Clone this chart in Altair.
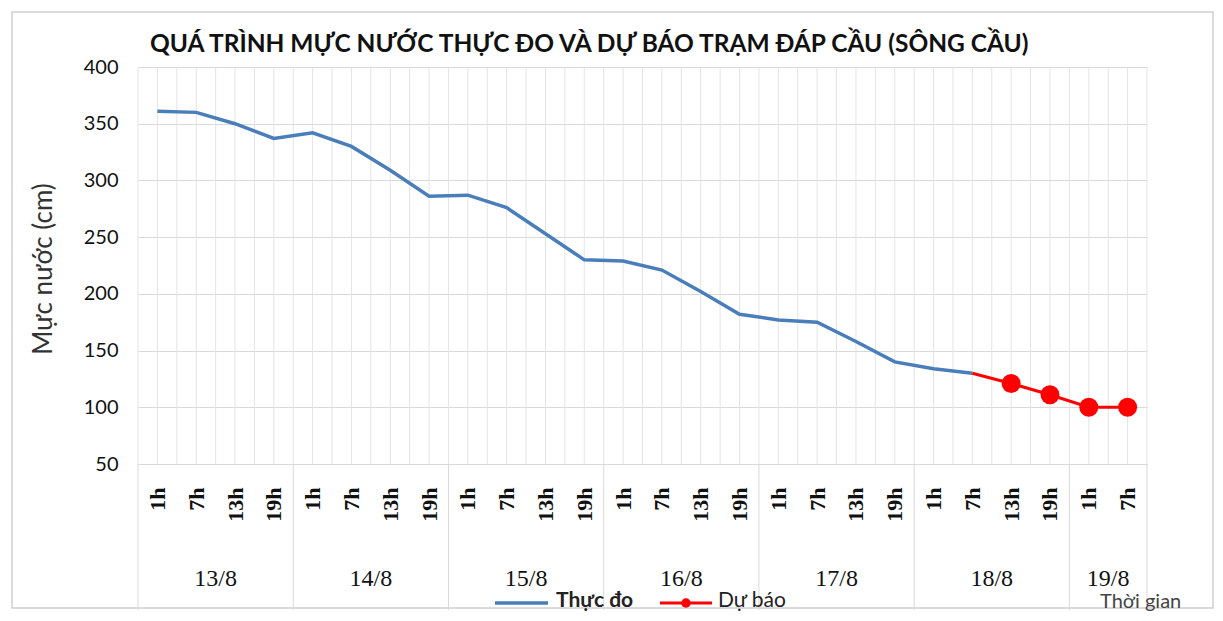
import json
import altair as alt
import pandas as pd

# ---------------- data ----------------
days = ["13/8", "14/8", "15/8", "16/8", "17/8", "18/8", "19/8"]
hours_per_day = [4, 4, 4, 4, 4, 4, 2]
hour_names = ["1h", "7h", "13h", "19h"]
observed = [361, 360, 350, 337, 342, 330, 309, 286, 287, 276, 253, 230,
            229, 221, 202, 182, 177, 175, 158, 140, 134, 130]
forecast = [130, 121, 111, 100, 100]
forecast_start = 21
title_text = "QUÁ TRÌNH MỰC NƯỚC THỰC ĐO VÀ DỰ BÁO TRẠM ĐÁP CẦU (SÔNG CẦU)"
y_title = "Mực nước (cm)"
x_title = "Thời gian"
legend_names = ["Thực đo", "Dự báo"]
y_ticks = [50, 100, 150, 200, 250, 300, 350, 400]

BLUE = "#4A7EBB"
RED = "#FF0000"
GRID = "#d9d9d9"

# ---------------- derived tables ----------------
hour_labels = []
for d, n in zip(days, hours_per_day):
    hour_labels.extend(hour_names[:n])
N = len(hour_labels)

obs_df = pd.DataFrame({"i": list(range(len(observed))), "v": observed})
fc_df = pd.DataFrame({"i": list(range(forecast_start, forecast_start + len(forecast))),
                      "v": forecast})
fc_pts = fc_df.iloc[1:]

vgrid_df = pd.DataFrame({"i": [k / 2 - 0.5 for k in range(2 * N + 1)]})
bounds = [-0.5]
starts = []
c = 0
for n in hours_per_day:
    starts.append(c)
    c += n
    bounds.append(c - 0.5)
sep_df = pd.DataFrame({"i": bounds})
day_df = pd.DataFrame({"i": [s + (n - 1) / 2 for s, n in zip(starts, hours_per_day)],
                       "d": days})
one = pd.DataFrame({"a": [0]})

W, H = 1009, 397

xscale = alt.Scale(domain=[-0.5, N - 0.5], nice=False, zero=False)
yscale = alt.Scale(domain=[y_ticks[0], y_ticks[-1]], nice=False, zero=False)

X_AXIS = alt.Axis(values=list(range(N)),
                  labelExpr=f"{json.dumps(hour_labels)}[datum.value]",
                  labelAngle=-90, labelAlign="right", labelBaseline="middle",
                  labelPadding=23, grid=False, domain=False, ticks=False, title=None,
                  labelFont="Liberation Serif", labelFontSize=22, labelFontWeight="bold",
                  labelColor="#111")
Y_AXIS = alt.Axis(values=y_ticks, grid=True, gridColor=GRID, domain=False, ticks=False,
                  labelFont="Lato", labelFontSize=20, labelPadding=20, labelColor="#111",
                  title=y_title, titleFont="Lato", titleFontSize=26,
                  titleFontWeight="normal", titleColor="#333",
                  titleX=-87, titleY=H / 2 + 3, titleBaseline="alphabetic")


def X():
    return alt.X("i:Q", scale=xscale, axis=X_AXIS)


def Y():
    return alt.Y("v:Q", scale=yscale, axis=Y_AXIS)


border = alt.Chart(one).mark_rect(fillOpacity=0, stroke="#cfcfcf", strokeWidth=1.5).encode(
    x=alt.value(-126), x2=alt.value(W + 66), y=alt.value(-55), y2=alt.value(H + 144))

title = alt.Chart(one).mark_text(text=title_text, font="Lato", fontSize=24.5, fontWeight="bold",
                                 color="#111", align="left", baseline="middle").encode(
    x=alt.value(12), y=alt.value(-22))

vgrid = alt.Chart(vgrid_df).mark_rule(color="#e4e4e4", strokeWidth=1).encode(
    x=X(), y=alt.value(0), y2=alt.value(H))

seps = alt.Chart(sep_df).mark_rule(color=GRID, strokeWidth=1).encode(
    x=X(), y=alt.value(H), y2=alt.value(H + 146))

obs_line = alt.Chart(obs_df).mark_line(color=BLUE, strokeWidth=3.5).encode(x=X(), y=Y())

fc_line = alt.Chart(fc_df).mark_line(color=RED, strokeWidth=3).encode(x=X(), y=Y())

fc_points = alt.Chart(fc_pts).mark_point(filled=True, color=RED, size=360, opacity=1).encode(
    x=X(), y=Y())

day_text = alt.Chart(day_df).mark_text(font="Liberation Serif", fontSize=24, color="#111",
                                       baseline="middle").encode(
    x=X(), y=alt.value(H + 115), text="d:N")

xt = alt.Chart(one).mark_text(text=x_title, font="Lato", fontSize=20, color="#444",
                              align="left", baseline="middle").encode(
    x=alt.value(962), y=alt.value(H + 138))

leg_blue = alt.Chart(one).mark_rule(color=BLUE, strokeWidth=3.5).encode(
    x=alt.value(357), x2=alt.value(410), y=alt.value(H + 139))
leg_blue_t = alt.Chart(one).mark_text(text=legend_names[0], font="Lato", fontWeight="bold",
                                      fontSize=21, color="#222", align="left",
                                      baseline="middle").encode(
    x=alt.value(418), y=alt.value(H + 137))
leg_red = alt.Chart(one).mark_rule(color=RED, strokeWidth=3).encode(
    x=alt.value(522), x2=alt.value(574), y=alt.value(H + 139))
leg_red_p = alt.Chart(one).mark_point(filled=True, color=RED, size=90, opacity=1).encode(
    x=alt.value(548), y=alt.value(H + 139))
leg_red_t = alt.Chart(one).mark_text(text=legend_names[1], font="Lato", fontSize=21,
                                     color="#222", align="left", baseline="middle").encode(
    x=alt.value(580), y=alt.value(H + 137))

chart = alt.layer(
    border, title, vgrid, seps, obs_line, fc_line, fc_points, day_text, xt,
    leg_blue, leg_blue_t, leg_red, leg_red_p, leg_red_t
).properties(
    width=W, height=H,
    autosize=alt.AutoSizeParams(type="none"),
    padding={"left": 130, "top": 59, "right": 68, "bottom": 148},
    background="white",
).configure_view(stroke=None)

chart.save("out.html", embed_options={"renderer": "svg", "actions": False})
